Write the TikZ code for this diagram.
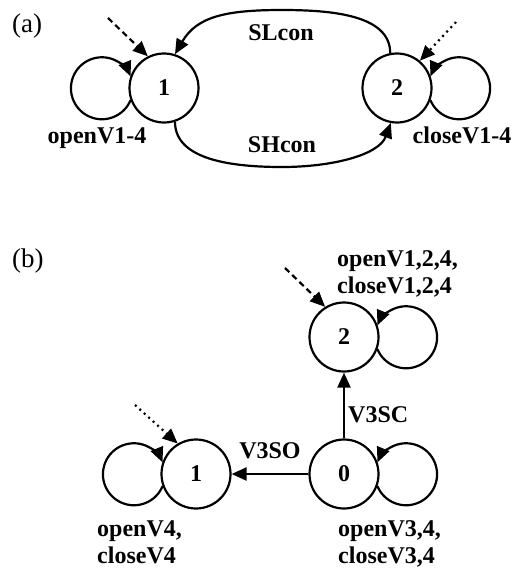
\documentclass[tikz,border=0pt]{standalone}
\usepackage{fontspec}
\setmainfont{Liberation Serif}
\usetikzlibrary{arrows.meta}
\begin{document}
\begin{tikzpicture}[x=1pt,y=1pt,
  state/.style={circle,draw,line width=2.2pt,minimum size=69pt,inner sep=0pt,font=\fontsize{24}{27}\selectfont\bfseries},
  lbl/.style={inner sep=0pt,font=\fontsize{24}{27}\selectfont\bfseries,align=left},
  tag/.style={inner sep=0pt,font=\fontsize{27}{30}\selectfont,anchor=base west},
  edge/.style={line width=2.2pt,-{Triangle[length=15pt,width=13pt]}},
  initdash/.style={edge,dash pattern=on 6pt off 4pt},
  initdot/.style={edge,dash pattern=on 2pt off 4pt},
]
\useasboundingbox (0,0) rectangle (527,-571);

% ---------- (a) ----------
\node[tag] (tga) at (12,-32) {(a)};
\node[state] (n1a) at (164,-88) {1};
\node[state] (n2a) at (397,-88) {2};

\draw[edge] (n1a.200) arc[start angle=-22.6,end angle=-337.4,radius=31];
\draw[edge] (n2a.-20) arc[start angle=202.6,end angle=517.4,radius=31];

\coordinate (slt) at (282,-10);
\coordinate (shb) at (282,-167);
\draw[edge] (n2a.101) .. controls +(0,38) and +(50,0) .. (slt)
  .. controls +(-55,0) and +(22,38) .. (n1a.72);
\draw[edge] (n1a.-72) .. controls +(0,-38) and +(-50,0) .. (shb)
  .. controls +(50,0) and +(-12,-32) .. (n2a.-100);

\coordinate (da) at (108,-18);
\coordinate (ta) at (456,-22);
\draw[initdash] (da) -- (n1a.117);
\draw[initdot] (ta) -- (n2a.50);

\node[lbl,anchor=base] (sl) at (281,-40) {SLcon};
\node[lbl,anchor=base] (sh) at (282,-152) {SHcon};
\node[lbl,anchor=base] (o14) at (97,-143) {openV1-4};
\node[lbl,anchor=base] (c14) at (462,-143) {closeV1-4};

% ---------- (b) ----------
\node[tag] (tgb) at (12,-267) {(b)};
\node[state] (n2b) at (344,-337) {2};
\node[state] (n0b) at (344,-474) {0};
\node[state] (n1b) at (196,-474) {1};

\draw[edge] (n1b.200) arc[start angle=-22.6,end angle=-337.4,radius=31];
\draw[edge] (n0b.-20) arc[start angle=202.6,end angle=517.4,radius=31];
\draw[edge] (n2b.-20) arc[start angle=202.6,end angle=517.4,radius=31];

\draw[edge] (n0b) -- (n1b);
\draw[edge] (n0b) -- (n2b);

\coordinate (db) at (285,-268);
\coordinate (tb) at (135,-405);
\draw[initdash] (db) -- (n2b.122);
\draw[initdot] (tb) -- (n1b.121);

\node[lbl,anchor=base] (v3so) at (270,-458) {V3SO};
\node[lbl,anchor=base west] (v3sc) at (348,-422) {V3SC};
\node[lbl,anchor=base west] (l2) at (337,-293) {openV1,2,4,\\closeV1,2,4};
\node[lbl,anchor=base west] (l1) at (97,-563) {openV4,\\closeV4};
\node[lbl,anchor=base west] (l0) at (338,-563) {openV3,4,\\closeV3,4};
\end{tikzpicture}
\end{document}
